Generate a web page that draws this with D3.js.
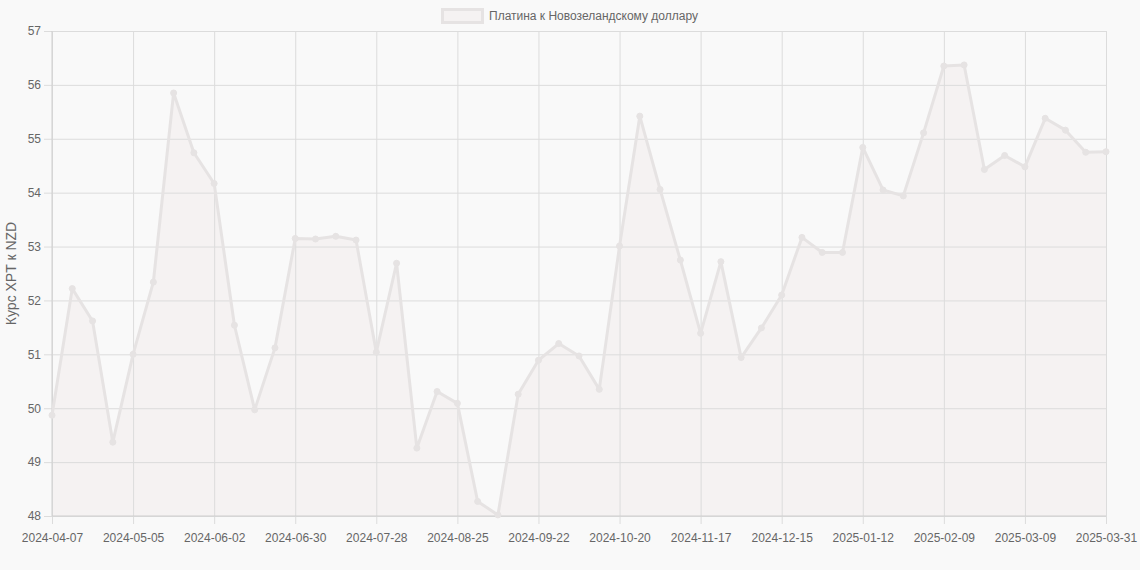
<!DOCTYPE html>
<html>
  <head>
    <meta charset="utf-8" />
    <script src="https://d3js.org/d3.v7.min.js"></script>
    <style>
      body {
        margin: 0;
        background-color: #f9f9f9;
        font-family: "Liberation Sans", Arial, Helvetica, sans-serif;
      }
      .tick text {
        fill: #666666;
        font-size: 12px;
      }
    </style>
  </head>

  <body>
    <div id="chartContainer"></div>
  </body>

  <script type="text/javascript">
    const dates = [
      "2024-04-07", "2024-04-14", "2024-04-21", "2024-04-28",
      "2024-05-05", "2024-05-12", "2024-05-19", "2024-05-26",
      "2024-06-02", "2024-06-09", "2024-06-16", "2024-06-23",
      "2024-06-30", "2024-07-07", "2024-07-14", "2024-07-21",
      "2024-07-28", "2024-08-04", "2024-08-11", "2024-08-18",
      "2024-08-25", "2024-09-01", "2024-09-08", "2024-09-15",
      "2024-09-22", "2024-09-29", "2024-10-06", "2024-10-13",
      "2024-10-20", "2024-10-27", "2024-11-03", "2024-11-10",
      "2024-11-17", "2024-11-24", "2024-12-01", "2024-12-08",
      "2024-12-15", "2024-12-22", "2024-12-29", "2025-01-05",
      "2025-01-12", "2025-01-19", "2025-01-26", "2025-02-02",
      "2025-02-09", "2025-02-16", "2025-02-23", "2025-03-02",
      "2025-03-09", "2025-03-16", "2025-03-23", "2025-03-30",
      "2025-03-31"
    ];

    const rates = [
      49.87, 52.22, 51.62, 49.37, 51.0, 52.34, 55.85, 54.74, 54.17, 51.54,
      49.97, 51.12, 53.15, 53.14, 53.19, 53.12, 51.04, 52.69, 49.26, 50.31,
      50.09, 48.27, 48.02, 50.26, 50.89, 51.2, 50.97, 50.35, 53.01, 55.42,
      54.06, 52.75, 51.39, 52.72, 50.94, 51.49, 52.1, 53.17, 52.89, 52.89,
      54.84, 54.05, 53.94, 55.11, 56.35, 56.37, 54.43, 54.69, 54.48, 55.38,
      55.16, 54.75, 54.76
    ];

    const xTickLabels = [
      "2024-04-07", "2024-05-05", "2024-06-02", "2024-06-30", "2024-07-28",
      "2024-08-25", "2024-09-22", "2024-10-20", "2024-11-17", "2024-12-15",
      "2025-01-12", "2025-02-09", "2025-03-09", "2025-03-31"
    ];
    const yTicks = [48, 49, 50, 51, 52, 53, 54, 55, 56, 57];

    const seriesName = "Платина к Новозеландскому доллару";
    const yTitle = "Курс XPT к NZD";

    const width = 1140,
      height = 570;
    const plotLeft = 52,
      plotRight = 1106,
      plotTop = 31,
      plotBottom = 516;

    const lineColor = "#e6e3e3";
    const fillColor = "#f5f2f2";
    const gridColor = "#dcdcdc";
    const borderColor = "#cfcfcf";

    const svg = d3
      .select("#chartContainer")
      .append("svg")
      .attr("width", width)
      .attr("height", height);

    const x = d3.scalePoint().domain(dates).range([plotLeft, plotRight]);
    const y = d3.scaleLinear().domain([48, 57]).range([plotBottom, plotTop]);

    const data = dates.map((d, i) => ({ date: d, value: rates[i] }));

    // area first, grid drawn over it (semi-transparent look)
    const area = d3
      .area()
      .x((d) => x(d.date))
      .y0(plotBottom)
      .y1((d) => y(d.value));
    const line = d3
      .line()
      .x((d) => x(d.date))
      .y((d) => y(d.value));

    svg
      .append("path")
      .datum(data)
      .attr("d", area)
      .attr("fill", fillColor);

    const xAxis = d3
      .axisBottom(x)
      .tickValues(xTickLabels)
      .tickSize(-(plotBottom - plotTop))
      .tickPadding(17);
    svg
      .append("g")
      .attr("transform", `translate(0, ${plotBottom})`)
      .call(xAxis)
      .call((g) => g.select(".domain").remove())
      .call((g) =>
        g
          .selectAll(".tick line")
          .attr("stroke", gridColor)
          .attr("y1", 8)
      );

    const yAxis = d3
      .axisLeft(y)
      .tickValues(yTicks)
      .tickSize(-(plotRight - plotLeft))
      .tickPadding(11);
    svg
      .append("g")
      .attr("transform", `translate(${plotLeft}, 0)`)
      .call(yAxis)
      .call((g) => g.select(".domain").remove())
      .call((g) =>
        g
          .selectAll(".tick line")
          .attr("stroke", gridColor)
          .attr("x1", -8)
      );

    // borders
    svg
      .append("line")
      .attr("x1", plotLeft)
      .attr("x2", plotLeft)
      .attr("y1", plotTop)
      .attr("y2", plotBottom)
      .attr("stroke", borderColor);
    svg
      .append("line")
      .attr("x1", plotLeft)
      .attr("x2", plotRight)
      .attr("y1", plotBottom)
      .attr("y2", plotBottom)
      .attr("stroke", borderColor);

    svg
      .append("path")
      .datum(data)
      .attr("d", line)
      .attr("fill", "none")
      .attr("stroke", lineColor)
      .attr("stroke-width", 3)
      .attr("stroke-linejoin", "round");

    svg
      .selectAll("circle.pt")
      .data(data)
      .enter()
      .append("circle")
      .attr("class", "pt")
      .attr("cx", (d) => x(d.date))
      .attr("cy", (d) => y(d.value))
      .attr("r", 3)
      .attr("fill", lineColor)
      .attr("stroke", lineColor);

    // y title
    svg
      .append("text")
      .attr(
        "transform",
        `translate(16, ${(plotTop + plotBottom) / 2}) rotate(-90)`
      )
      .attr("text-anchor", "middle")
      .attr("fill", "#666666")
      .style("font-size", "14px")
      .text(yTitle);

    // legend
    const legend = svg.append("g");
    legend
      .append("rect")
      .attr("x", 442.5)
      .attr("y", 9.5)
      .attr("width", 40)
      .attr("height", 13)
      .attr("fill", fillColor)
      .attr("stroke", lineColor)
      .attr("stroke-width", 3);
    legend
      .append("text")
      .attr("x", 489)
      .attr("y", 20)
      .attr("fill", "#666666")
      .style("font-size", "12px")
      .text(seriesName);
  </script>
</html>
